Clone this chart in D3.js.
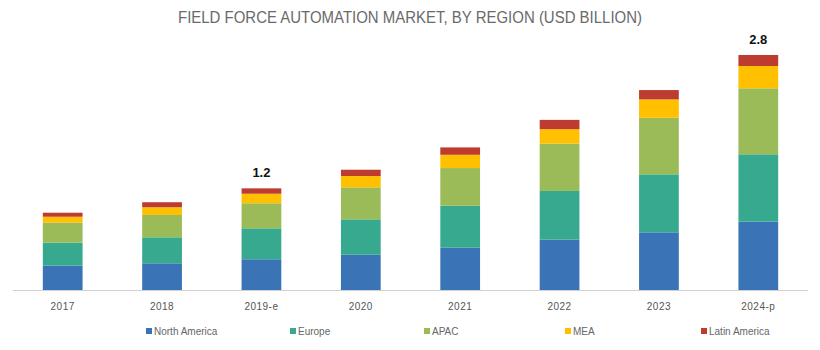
<!DOCTYPE html>
<html>
<head>
<meta charset="utf-8">
<script src="https://cdn.jsdelivr.net/npm/d3@7"></script>
<style>
  html, body { margin: 0; padding: 0; background: #fff; }
  svg { display: block; }
</style>
</head>
<body>
<svg id="chart" width="820" height="350"></svg>
<script>
const years = ["2017", "2018", "2019-e", "2020", "2021", "2022", "2023", "2024-p"];
const regions = ["North America", "Europe", "APAC", "MEA", "Latin America"];
const northAmerica = [0.29, 0.318, 0.366, 0.42, 0.504, 0.60, 0.687, 0.814];
const europe       = [0.274, 0.31, 0.369, 0.422, 0.50, 0.58, 0.691, 0.803];
const apac         = [0.238, 0.266, 0.298, 0.381, 0.449, 0.564, 0.674, 0.786];
const mea          = [0.071, 0.092, 0.114, 0.135, 0.158, 0.172, 0.219, 0.266];
const latinAmerica = [0.048, 0.06, 0.064, 0.075, 0.088, 0.111, 0.111, 0.131];
const totalLabels = [null, null, "1.2", null, null, null, null, "2.8"];
const colors = ["#3a74b6", "#37a98f", "#9bbb59", "#ffc000", "#be3b2f"];

const seriesValues = [northAmerica, europe, apac, mea, latinAmerica];
const table = years.map((y, i) => {
  const row = { year: y };
  regions.forEach((r, k) => row[r] = seriesValues[k][i]);
  return row;
});

const svg = d3.select("#chart");
const baseY = 290;

const x = d3.scaleBand().domain(years).range([13, 808]).paddingInner(0.6).paddingOuter(0.3);
const y = d3.scaleLinear().domain([0, 2.8]).range([baseY, 55]);

// title
svg.append("text")
  .attr("x", 410).attr("y", 23)
  .attr("text-anchor", "middle")
  .attr("font-family", "Liberation Sans Narrow, Liberation Sans, Arial, sans-serif")
  .attr("font-size", 16)
  .attr("fill", "#6a6a6a")
  .attr("textLength", 464)
  .attr("lengthAdjust", "spacingAndGlyphs")
  .text("FIELD FORCE AUTOMATION MARKET, BY REGION (USD BILLION)");

const stacked = d3.stack().keys(regions)(table);

svg.append("g").selectAll("g")
  .data(stacked)
  .join("g")
  .attr("fill", (d, i) => colors[i])
  .selectAll("rect")
  .data(d => d)
  .join("rect")
  .attr("x", d => x(d.data.year))
  .attr("width", x.bandwidth())
  .attr("y", d => y(d[1]))
  .attr("height", d => y(d[0]) - y(d[1]));

// axis
const axis = svg.append("g")
  .attr("transform", `translate(0,${baseY})`)
  .call(d3.axisBottom(x).tickSize(0).tickPadding(13));
axis.select(".domain").attr("stroke", "#d0d0d0").attr("d", "M13,0.5H808");
axis.selectAll("text")
  .attr("font-family", "Liberation Sans, Arial, sans-serif")
  .attr("font-size", 10)
  .attr("letter-spacing", 0.5)
  .attr("fill", "#555");

// total labels
const last = stacked[stacked.length - 1];
svg.append("g").selectAll("text")
  .data(last.filter((d, i) => totalLabels[i]))
  .join("text")
  .attr("x", d => x(d.data.year) + x.bandwidth() / 2)
  .attr("y", d => y(d[1]) - 11)
  .attr("text-anchor", "middle")
  .attr("font-family", "Liberation Sans, Arial, sans-serif")
  .attr("font-weight", "bold")
  .attr("font-size", 13)
  .attr("fill", "#111")
  .text(d => totalLabels[years.indexOf(d.data.year)]);

// legend
const legendX = [146, 290, 424, 565, 701];
const legend = svg.append("g").selectAll("g")
  .data(regions)
  .join("g")
  .attr("transform", (d, i) => `translate(${legendX[i]},331)`);
legend.append("rect")
  .attr("x", 0).attr("y", -3).attr("width", 6).attr("height", 6)
  .attr("fill", (d, i) => colors[i]);
legend.append("text")
  .attr("x", 8).attr("y", 3.5)
  .attr("font-family", "Liberation Sans, Arial, sans-serif")
  .attr("font-size", 10)
  .attr("fill", "#666")
  .text(d => d);
</script>
</body>
</html>
